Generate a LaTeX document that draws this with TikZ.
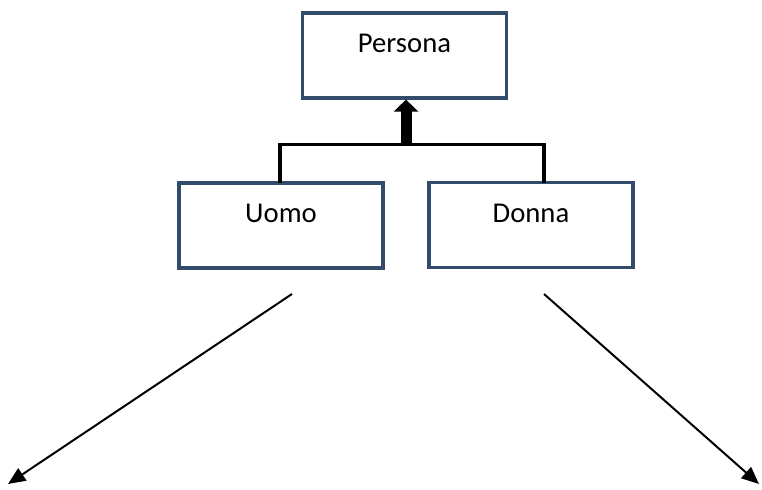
\documentclass[tikz,border=0pt]{standalone}
\usepackage{fontspec}
\setmainfont{Carlito}
\usetikzlibrary{arrows.meta}
\definecolor{boxline}{RGB}{52,76,108}
\begin{document}
\begin{tikzpicture}[x=0.75pt,y=-0.75pt,
  classbox/.style={draw=boxline,line width=2.4pt,fill=white,minimum width=153pt,minimum height=63.75pt,inner sep=0pt},
  label/.style={font=\fontsize{21.5}{25}\selectfont,anchor=base,inner sep=0pt},
  tree/.style={line width=2.4pt,line cap=rect},
  inherit/.style={line width=8.25pt,-{Triangle[width=18pt,length=9pt]}},
  assoc/.style={line width=1.5pt,-{Triangle[width=11pt,length=13pt]}}]
  \useasboundingbox (0,0) rectangle (762,489);

  % classes
  \node[classbox] (persona) at (404.5,55.5) {};
  \node[classbox] (uomo) at (281,225.5) {};
  \node[classbox] (donna) at (531,225) {};
  \node[label] (tpersona) at (404.5,52) {Persona};
  \node[label] (tuomo) at (281,222) {Uomo};
  \node[label] (tdonna) at (531,222) {Donna};

  % inheritance tree
  \coordinate (lbar) at (280,144.5);
  \coordinate (rbar) at (544,144.5);
  \coordinate (mbar) at (406,144.5);
  \draw[tree] (uomo.north -| lbar) -- (lbar) -- (rbar) -- (donna.north -| rbar);
  \draw[inherit] (mbar) -- (persona.south -| mbar);

  % associations
  \coordinate (ustart) at (292,294);
  \coordinate (uend) at (8,484);
  \coordinate (dstart) at (544,294);
  \coordinate (dend) at (759,484);
  \draw[assoc] (ustart) -- (uend);
  \draw[assoc] (dstart) -- (dend);
\end{tikzpicture}
\end{document}
